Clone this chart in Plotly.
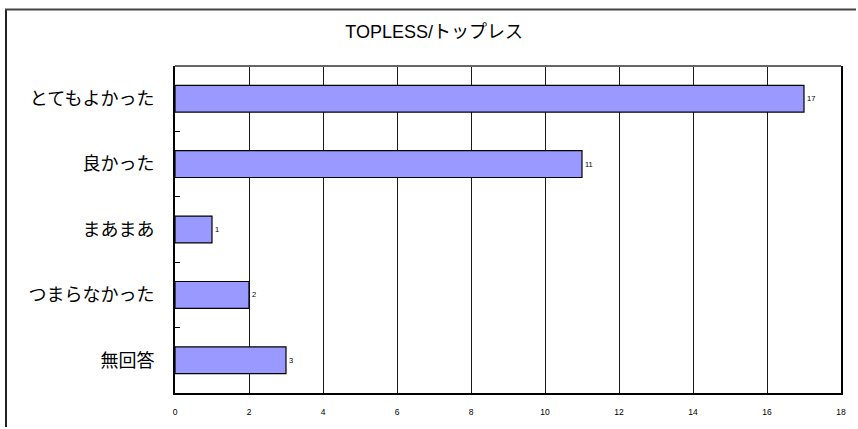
import plotly.graph_objects as go

# Survey answers and counts
categories = ["とてもよかった", "良かった", "まあまあ", "つまらなかった", "無回答"]
counts = [17, 11, 1, 2, 3]
x_ticks = [0, 2, 4, 6, 8, 10, 12, 14, 16, 18]
title_text = "TOPLESS/トップレス"

W, H = 858, 429
ML, MR, MT, MB = 175, 13, 66, 34

FONT = "Arial, 'Liberation Sans', 'Noto Sans CJK JP', sans-serif"

fig = go.Figure(
    go.Bar(
        x=counts,
        y=categories,
        orientation="h",
        marker=dict(color="#9999FF", line=dict(color="#000000", width=1.2)),
        text=[str(v) for v in counts],
        textposition="outside",
        textfont=dict(size=7.5, color="#000000", family=FONT),
        cliponaxis=False,
        width=0.41,
    )
)

# outer chart border (left and top edges), offsets in pixels from the plot corner
left_px, top_px = 6 - ML, MT - 9.5
bottom_px = -(H - 2 - MT)
right_px = W - 2 - ML

fig.update_layout(
    width=W,
    height=H,
    margin=dict(l=ML, r=MR, t=MT, b=MB),
    paper_bgcolor="#ffffff",
    plot_bgcolor="#ffffff",
    showlegend=False,
    title=dict(
        text=title_text,
        x=0.506,
        y=1 - 32 / H,
        xanchor="center",
        yanchor="middle",
        font=dict(size=18, color="#000000", family=FONT),
    ),
    xaxis=dict(
        range=[0, 18],
        tickvals=x_ticks,
        ticktext=[str(v) for v in x_ticks],
        showgrid=True,
        gridcolor="#1a1a1a",
        gridwidth=1,
        zeroline=False,
        showline=True,
        linecolor="#000000",
        linewidth=2,
        ticks="",
        ticklabelstandoff=10,
        tickfont=dict(size=8.5, color="#000000", family=FONT),
        fixedrange=True,
    ),
    yaxis=dict(
        autorange="reversed",
        showgrid=False,
        zeroline=False,
        showline=True,
        mirror=True,
        linecolor="#000000",
        linewidth=2,
        ticks="inside",
        tickson="boundaries",
        ticklen=5,
        tickcolor="#000000",
        tickwidth=1,
        ticklabelstandoff=15,
        tickfont=dict(size=18, color="#000000", family="'Noto Sans CJK JP', sans-serif"),
        fixedrange=True,
    ),
    shapes=[
        # gray top edge of the plot frame
        dict(type="line", xref="paper", yref="paper", x0=0, x1=1, y0=1, y1=1,
             line=dict(color="#666666", width=2)),
        dict(type="line", xref="paper", yref="paper",
             xsizemode="pixel", xanchor=0, ysizemode="pixel", yanchor=1,
             x0=left_px, x1=left_px, y0=top_px, y1=bottom_px,
             line=dict(color="#222222", width=2)),
        dict(type="line", xref="paper", yref="paper",
             xsizemode="pixel", xanchor=0, ysizemode="pixel", yanchor=1,
             x0=left_px - 1, x1=right_px, y0=top_px, y1=top_px,
             line=dict(color="#444444", width=2)),
    ],
)

fig.write_html("out.html", config={"displayModeBar": False})
